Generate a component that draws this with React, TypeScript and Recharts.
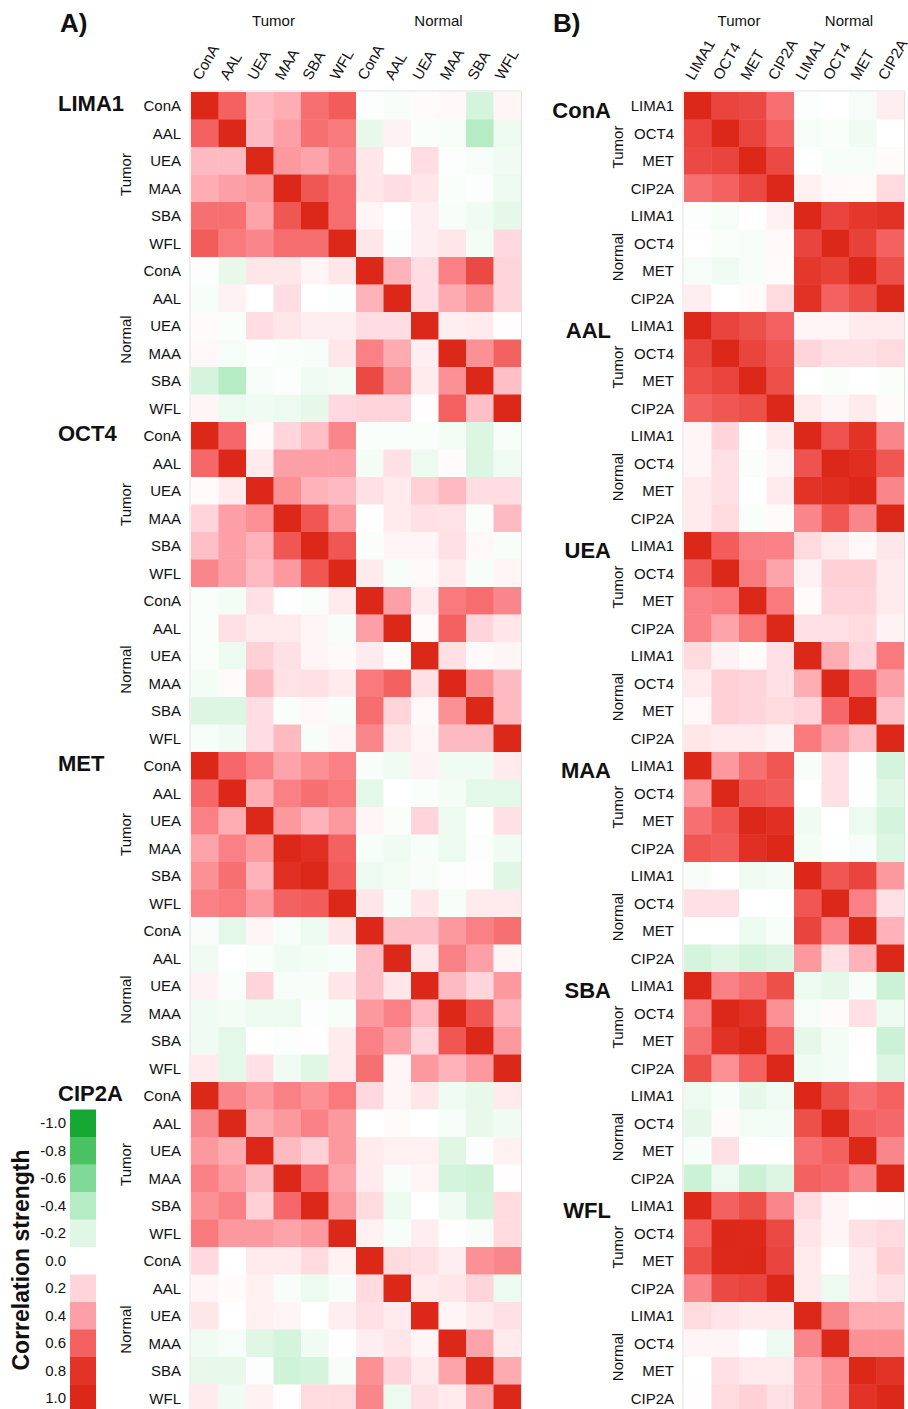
import React from "react";
import { ScatterChart, Scatter, XAxis, YAxis } from "recharts";

const FONT = '"Liberation Sans", Arial, Helvetica, sans-serif';

const lectins = ["ConA", "AAL", "UEA", "MAA", "SBA", "WFL"];
const markers = ["LIMA1", "OCT4", "MET", "CIP2A"];
const groups = ["Tumor", "Normal"];

// panel A: per marker, lectin x lectin (tumor then normal)
const lima1Corr = [
  [1, 0.6, 0.3, 0.35, 0.55, 0.62, -0.02, -0.05, 0.02, 0.04, -0.25, 0.05],
  [0.6, 1, 0.3, 0.4, 0.55, 0.52, -0.15, 0.06, -0.03, -0.06, -0.4, -0.12],
  [0.3, 0.3, 1, 0.42, 0.38, 0.48, 0.12, 0.0, 0.16, -0.02, -0.05, -0.1],
  [0.35, 0.4, 0.42, 1, 0.65, 0.56, 0.12, 0.16, 0.12, -0.03, -0.02, -0.12],
  [0.55, 0.55, 0.38, 0.65, 1, 0.56, 0.05, 0.0, 0.08, -0.05, -0.1, -0.17],
  [0.62, 0.52, 0.48, 0.56, 0.56, 1, 0.12, -0.02, 0.08, 0.12, -0.08, 0.18],
  [-0.02, -0.15, 0.12, 0.12, 0.05, 0.12, 1, 0.33, 0.16, 0.5, 0.7, 0.2],
  [-0.05, 0.06, 0.0, 0.16, 0.0, -0.02, 0.33, 1, 0.16, 0.36, 0.45, 0.2],
  [0.02, -0.03, 0.16, 0.12, 0.08, 0.08, 0.16, 0.16, 1, 0.08, 0.1, 0.01],
  [0.04, -0.06, -0.02, -0.03, -0.05, 0.12, 0.5, 0.36, 0.08, 1, 0.45, 0.6],
  [-0.25, -0.4, -0.05, -0.02, -0.1, -0.08, 0.7, 0.45, 0.1, 0.45, 1, 0.28],
  [0.05, -0.12, -0.1, -0.12, -0.17, 0.18, 0.2, 0.2, 0.01, 0.6, 0.28, 1],
];

const oct4Corr = [
  [1, 0.58, 0.02, 0.2, 0.28, 0.48, -0.03, -0.03, -0.03, -0.08, -0.22, -0.05],
  [0.58, 1, 0.1, 0.4, 0.4, 0.4, -0.08, 0.15, -0.12, 0.02, -0.22, -0.1],
  [0.02, 0.1, 1, 0.45, 0.33, 0.3, 0.15, 0.1, 0.22, 0.3, 0.16, 0.16],
  [0.2, 0.4, 0.45, 1, 0.65, 0.42, 0.01, 0.1, 0.15, 0.14, -0.03, 0.3],
  [0.28, 0.4, 0.33, 0.65, 1, 0.65, -0.03, 0.05, 0.05, 0.15, 0.04, -0.05],
  [0.48, 0.4, 0.3, 0.42, 0.65, 1, 0.1, -0.05, 0.03, 0.1, -0.05, 0.05],
  [-0.03, -0.08, 0.15, 0.01, -0.03, 0.1, 1, 0.4, 0.1, 0.52, 0.56, 0.48],
  [-0.03, 0.15, 0.1, 0.1, 0.05, -0.05, 0.4, 1, 0.02, 0.6, 0.2, 0.12],
  [-0.03, -0.12, 0.22, 0.15, 0.05, 0.03, 0.1, 0.02, 1, 0.15, 0.03, 0.05],
  [-0.08, 0.02, 0.3, 0.14, 0.15, 0.1, 0.52, 0.6, 0.15, 1, 0.45, 0.3],
  [-0.22, -0.22, 0.16, -0.03, 0.04, -0.05, 0.56, 0.2, 0.03, 0.45, 1, 0.3],
  [-0.05, -0.1, 0.16, 0.3, -0.05, 0.05, 0.48, 0.12, 0.05, 0.3, 0.3, 1],
];

const metCorr = [
  [1, 0.58, 0.5, 0.38, 0.45, 0.5, -0.04, -0.1, 0.06, -0.1, -0.1, 0.1],
  [0.58, 1, 0.35, 0.5, 0.55, 0.52, -0.18, 0.0, -0.03, -0.08, -0.18, -0.18],
  [0.5, 0.35, 1, 0.42, 0.33, 0.42, 0.05, -0.03, 0.2, -0.12, 0.0, 0.15],
  [0.38, 0.5, 0.42, 1, 0.85, 0.6, -0.05, -0.1, -0.05, -0.12, -0.02, -0.1],
  [0.45, 0.55, 0.33, 0.85, 1, 0.62, -0.12, -0.08, -0.04, -0.02, 0.01, -0.2],
  [0.5, 0.52, 0.42, 0.6, 0.62, 1, 0.12, -0.05, 0.12, -0.05, 0.1, 0.1],
  [-0.04, -0.18, 0.05, -0.05, -0.12, 0.12, 1, 0.28, 0.28, 0.42, 0.5, 0.55],
  [-0.1, 0.0, -0.03, -0.1, -0.08, -0.05, 0.28, 1, 0.12, 0.5, 0.4, 0.05],
  [0.06, -0.03, 0.2, -0.05, -0.04, 0.12, 0.28, 0.12, 1, 0.3, 0.2, 0.42],
  [-0.1, -0.08, -0.12, -0.12, -0.02, -0.05, 0.42, 0.5, 0.3, 1, 0.65, 0.33],
  [-0.1, -0.18, 0.0, -0.02, 0.01, 0.1, 0.5, 0.4, 0.2, 0.65, 1, 0.42],
  [0.1, -0.18, 0.15, -0.1, -0.2, 0.1, 0.55, 0.05, 0.42, 0.33, 0.42, 1],
];

const cip2aCorr = [
  [1, 0.48, 0.42, 0.5, 0.45, 0.52, 0.18, 0.05, 0.12, -0.1, -0.15, 0.1],
  [0.48, 1, 0.36, 0.42, 0.5, 0.42, 0.0, 0.02, 0.0, -0.06, -0.15, -0.1],
  [0.42, 0.36, 1, 0.3, 0.22, 0.42, 0.1, 0.07, 0.07, -0.2, -0.02, 0.07],
  [0.5, 0.42, 0.3, 1, 0.58, 0.38, 0.1, -0.04, 0.05, -0.25, -0.28, 0.01],
  [0.45, 0.5, 0.22, 0.58, 1, 0.42, 0.17, -0.12, 0.0, -0.1, -0.25, 0.17],
  [0.52, 0.42, 0.42, 0.38, 0.42, 1, 0.07, -0.05, 0.08, 0.01, -0.04, 0.17],
  [0.18, 0.0, 0.1, 0.1, 0.17, 0.07, 1, 0.17, 0.15, 0.08, 0.45, 0.48],
  [0.05, 0.02, 0.07, -0.04, -0.12, -0.05, 0.17, 1, 0.1, 0.12, 0.2, -0.12],
  [0.12, 0.0, 0.07, 0.05, 0.0, 0.08, 0.15, 0.1, 1, 0.05, 0.1, 0.15],
  [-0.1, -0.06, -0.2, -0.25, -0.1, 0.01, 0.08, 0.12, 0.05, 1, 0.38, 0.1],
  [-0.15, -0.15, -0.02, -0.28, -0.25, -0.04, 0.45, 0.2, 0.1, 0.38, 1, 0.36],
  [0.1, -0.1, 0.07, 0.01, 0.17, 0.17, 0.48, -0.12, 0.15, 0.1, 0.36, 1],
];

// panel B: per lectin, marker x marker (tumor then normal)
const conaCorr = [
  [1, 0.72, 0.7, 0.55, -0.02, 0.0, -0.06, 0.08],
  [0.72, 1, 0.72, 0.6, -0.06, -0.03, -0.1, 0.0],
  [0.7, 0.72, 1, 0.7, 0.0, -0.05, -0.05, 0.02],
  [0.55, 0.6, 0.7, 1, 0.07, 0.03, 0.02, 0.17],
  [-0.02, -0.06, 0.0, 0.07, 1, 0.72, 0.78, 0.82],
  [0.0, -0.03, -0.05, 0.03, 0.72, 1, 0.74, 0.6],
  [-0.06, -0.1, -0.05, 0.02, 0.78, 0.74, 1, 0.68],
  [0.08, 0.0, 0.02, 0.17, 0.82, 0.6, 0.68, 1],
];

const aalCorr = [
  [1, 0.72, 0.68, 0.6, 0.05, 0.05, 0.1, 0.1],
  [0.72, 1, 0.72, 0.65, 0.2, 0.15, 0.15, 0.17],
  [0.68, 0.72, 1, 0.68, 0.0, -0.03, 0.0, -0.03],
  [0.6, 0.65, 0.68, 1, 0.1, 0.05, 0.1, 0.02],
  [0.05, 0.2, 0.0, 0.1, 1, 0.66, 0.8, 0.48],
  [0.05, 0.15, -0.03, 0.05, 0.66, 1, 0.88, 0.65],
  [0.1, 0.15, 0.0, 0.1, 0.8, 0.88, 1, 0.48],
  [0.1, 0.17, -0.03, 0.02, 0.48, 0.65, 0.48, 1],
];

const ueaCorr = [
  [1, 0.62, 0.5, 0.5, 0.17, 0.1, 0.04, 0.12],
  [0.62, 1, 0.52, 0.38, 0.06, 0.22, 0.22, 0.1],
  [0.5, 0.52, 1, 0.52, 0.02, 0.2, 0.2, 0.1],
  [0.5, 0.38, 0.52, 1, 0.15, 0.15, 0.17, 0.06],
  [0.17, 0.06, 0.02, 0.15, 1, 0.35, 0.2, 0.52],
  [0.1, 0.22, 0.2, 0.15, 0.35, 1, 0.58, 0.4],
  [0.04, 0.22, 0.2, 0.17, 0.2, 0.58, 1, 0.28],
  [0.12, 0.1, 0.1, 0.06, 0.52, 0.4, 0.28, 1],
];

const maaCorr = [
  [1, 0.42, 0.55, 0.65, -0.04, 0.15, 0.0, -0.25],
  [0.42, 1, 0.65, 0.62, 0.0, 0.15, 0.0, -0.2],
  [0.55, 0.65, 1, 0.85, -0.1, 0.0, -0.12, -0.25],
  [0.65, 0.62, 0.85, 1, -0.08, -0.01, -0.05, -0.22],
  [-0.04, 0.0, -0.1, -0.08, 1, 0.65, 0.72, 0.42],
  [0.15, 0.15, 0.0, -0.01, 0.65, 1, 0.5, 0.15],
  [0.0, 0.0, -0.12, -0.05, 0.72, 0.5, 1, 0.33],
  [-0.25, -0.2, -0.25, -0.22, 0.42, 0.15, 0.33, 1],
];

const sbaCorr = [
  [1, 0.5, 0.55, 0.68, -0.12, -0.17, -0.05, -0.3],
  [0.5, 1, 0.82, 0.45, -0.05, 0.02, 0.15, -0.12],
  [0.55, 0.82, 1, 0.6, -0.17, -0.08, 0.01, -0.3],
  [0.68, 0.45, 0.6, 1, -0.1, -0.08, 0.0, -0.22],
  [-0.12, -0.05, -0.17, -0.1, 1, 0.68, 0.55, 0.6],
  [-0.17, 0.02, -0.08, -0.08, 0.68, 1, 0.6, 0.58],
  [-0.05, 0.15, 0.01, 0.0, 0.55, 0.6, 1, 0.48],
  [-0.3, -0.12, -0.3, -0.22, 0.6, 0.58, 0.48, 1],
];

const wflCorr = [
  [1, 0.6, 0.68, 0.48, 0.17, 0.05, 0.0, 0.01],
  [0.6, 1, 0.98, 0.7, 0.13, 0.05, 0.15, 0.17],
  [0.68, 0.98, 1, 0.72, 0.1, 0.0, 0.1, 0.22],
  [0.48, 0.7, 0.72, 1, 0.1, -0.12, 0.1, 0.15],
  [0.17, 0.13, 0.1, 0.1, 1, 0.48, 0.35, 0.35],
  [0.05, 0.05, 0.0, -0.12, 0.48, 1, 0.45, 0.45],
  [0.0, 0.15, 0.1, 0.1, 0.35, 0.45, 1, 0.8],
  [0.01, 0.17, 0.22, 0.15, 0.35, 0.45, 0.8, 1],
];

const panelABlocks = [lima1Corr, oct4Corr, metCorr, cip2aCorr];
const panelBBlocks = [conaCorr, aalCorr, ueaCorr, maaCorr, sbaCorr, wflCorr];

const legendValues = [-1, -0.8, -0.6, -0.4, -0.2, 0, 0.2, 0.4, 0.6, 0.8, 1];

// green -> white -> red, sampled from the key
const colorStops: [number, number[]][] = [
  [-1, [22, 168, 50]],
  [-0.8, [74, 193, 98]],
  [-0.6, [128, 217, 150]],
  [-0.4, [181, 236, 195]],
  [-0.2, [224, 247, 230]],
  [0, [255, 255, 255]],
  [0.2, [255, 213, 219]],
  [0.4, [253, 159, 166]],
  [0.6, [244, 97, 97]],
  [0.8, [226, 51, 38]],
  [1, [220, 40, 25]],
];

function corrColor(v: number) {
  const t = Math.max(-1, Math.min(1, v));
  for (let i = 0; i < colorStops.length - 1; i++) {
    const [a, ca] = colorStops[i];
    const [b, cb] = colorStops[i + 1];
    if (t <= b) {
      const f = (t - a) / (b - a);
      const c = ca.map((x, k) => Math.round(x + (cb[k] - x) * f));
      return `rgb(${c[0]},${c[1]},${c[2]})`;
    }
  }
  return "rgb(220,40,25)";
}

const ROW = 27.5;
const TOP = 92;
const Y_AXIS_W = 60;
const X_AXIS_H = 30;

function ColTick(props: any) {
  const { x, y, payload, names } = props;
  const tx = x - 4;
  const ty = y - 11;
  return (
    <text
      x={tx}
      y={ty}
      transform={`rotate(-60 ${tx} ${ty})`}
      textAnchor="start"
      fontSize={15}
      fontFamily={FONT}
      fill="#111"
    >
      {names[Math.floor(payload.value) % names.length]}
    </text>
  );
}

function HeatPanel({
  blocks,
  names,
  left,
  chartWidth,
  plotLeft,
  plotWidth,
}: {
  blocks: number[][][];
  names: string[];
  left: number;
  chartWidth: number;
  plotLeft: number;
  plotWidth: number;
}) {
  const n = blocks[0].length;
  const rows = blocks.length * n;
  const cw = plotWidth / n;
  const data: { x: number; y: number; v: number }[] = [];
  blocks.forEach((m, b) =>
    m.forEach((row, i) =>
      row.forEach((v, j) => data.push({ x: j + 0.5, y: b * n + i + 0.5, v }))
    )
  );
  const colTicks = Array.from({ length: n }, (_, j) => j + 0.5);
  const rowTicks = Array.from({ length: rows }, (_, i) => i + 0.5);
  const mLeft = plotLeft - left - Y_AXIS_W;
  const mRight = chartWidth - (plotLeft - left) - plotWidth;

  return (
    <div style={{ position: "absolute", left, top: 0 }}>
      <ScatterChart
        width={chartWidth}
        height={TOP + rows * ROW}
        margin={{ top: TOP - X_AXIS_H, left: mLeft, right: mRight, bottom: 0 }}
      >
        <XAxis
          type="number"
          dataKey="x"
          orientation="top"
          domain={[0, n]}
          ticks={colTicks}
          interval={0}
          height={X_AXIS_H}
          axisLine={false}
          tickLine={false}
          tickSize={0}
          tickMargin={0}
          tick={(p: any) => <ColTick {...p} names={names} />}
        />
        <YAxis
          type="number"
          dataKey="y"
          domain={[0, rows]}
          reversed
          ticks={rowTicks}
          interval={0}
          width={Y_AXIS_W}
          axisLine={false}
          tickLine={false}
          tickSize={0}
          tickMargin={10}
          tickFormatter={(v: number) => names[Math.floor(v) % names.length]}
          tick={{ fontSize: 15, fill: "#111", fontFamily: FONT }}
        />
        <Scatter
          data={data}
          isAnimationActive={false}
          shape={(p: any) => (
            <rect
              x={p.cx - cw / 2}
              y={p.cy - ROW / 2}
              width={cw + 0.4}
              height={ROW + 0.4}
              fill={corrColor(p.payload.v)}
            />
          )}
        />
      </ScatterChart>
    </div>
  );
}

export default function App() {
  const aLeft = 191;
  const bLeft = 684;
  const cell = 27.5;
  const nA = 12;
  const nB = 8;

  return (
    <div
      style={{
        position: "absolute",
        left: 0,
        top: 0,
        width: 908,
        height: 1409,
        overflow: "hidden",
        background: "#fff",
        fontFamily: FONT,
      }}
    >
      <HeatPanel
        blocks={panelABlocks}
        names={lectins}
        left={0}
        chartWidth={530}
        plotLeft={aLeft}
        plotWidth={cell * nA}
      />
      <HeatPanel
        blocks={panelBBlocks}
        names={markers}
        left={530}
        chartWidth={378}
        plotLeft={bLeft}
        plotWidth={cell * nB}
      />

      <svg
        width={908}
        height={1409}
        style={{ position: "absolute", left: 0, top: 0, pointerEvents: "none" }}
        fontFamily={FONT}
      >
        {/* faint frame round each heatmap */}
        <rect x={aLeft - 1} y={TOP - 1} width={cell * nA + 1.5} height={48 * ROW + 2} fill="none" stroke="#e2e2e2" strokeWidth={1} />
        <rect x={bLeft - 1} y={TOP - 1} width={cell * nB + 1.5} height={48 * ROW + 2} fill="none" stroke="#e2e2e2" strokeWidth={1} />

        <text x={60} y={32} fontSize={26} fontWeight="bold" fill="#111">A)</text>
        <text x={553} y={32} fontSize={26} fontWeight="bold" fill="#111">B)</text>

        {groups.map((g, k) => (
          <text key={`ha-${g}`} x={aLeft + (k * 6 + 3) * cell} y={26} fontSize={15} textAnchor="middle" fill="#111">
            {g}
          </text>
        ))}
        {groups.map((g, k) => (
          <text key={`hb-${g}`} x={bLeft + (k * 4 + 2) * cell} y={26} fontSize={15} textAnchor="middle" fill="#111">
            {g}
          </text>
        ))}

        {markers.map((m, b) => {
          const top = TOP + b * nA * ROW;
          return (
            <g key={`ba-${m}`}>
              <text x={58} y={top + 19} fontSize={22} fontWeight="bold" fill="#111">{m}</text>
              {groups.map((g, k) => {
                const yc = top + (k * 6 + 3) * ROW;
                return (
                  <text key={g} x={131} y={yc} fontSize={15} textAnchor="middle" fill="#111" transform={`rotate(-90 131 ${yc})`}>
                    {g}
                  </text>
                );
              })}
            </g>
          );
        })}

        {lectins.map((l, b) => {
          const top = TOP + b * nB * ROW;
          return (
            <g key={`bb-${l}`}>
              <text x={611} y={top + 26} fontSize={22} fontWeight="bold" textAnchor="end" fill="#111">{l}</text>
              {groups.map((g, k) => {
                const yc = top + (k * 4 + 2) * ROW;
                return (
                  <text key={g} x={623} y={yc} fontSize={15} textAnchor="middle" fill="#111" transform={`rotate(-90 623 ${yc})`}>
                    {g}
                  </text>
                );
              })}
            </g>
          );
        })}

        {legendValues.map((v, i) => {
          const y = TOP + (48 - legendValues.length + i) * ROW;
          return (
            <g key={`lg-${i}`}>
              <rect x={70} y={y} width={26} height={ROW + 0.4} fill={corrColor(v)} />
              <text x={66} y={y + ROW / 2 + 5} fontSize={15} textAnchor="end" fill="#111">
                {v.toFixed(1)}
              </text>
            </g>
          );
        })}
        <text
          x={29}
          y={1260}
          fontSize={23}
          fontWeight="bold"
          textAnchor="middle"
          fill="#111"
          transform="rotate(-90 29 1260)"
        >
          Correlation strength
        </text>
      </svg>
    </div>
  );
}
